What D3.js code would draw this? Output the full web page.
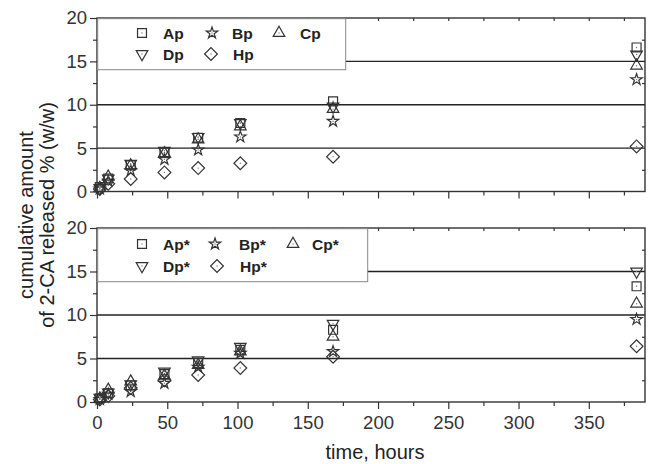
<!DOCTYPE html>
<html>
<head>
<meta charset="utf-8">
<script src="https://cdn.jsdelivr.net/npm/d3@7"></script>
<style>
	body { margin: 0; background: #fff; }
	text { font-family: Arial, "Liberation Sans", sans-serif; }
</style>
</head>
<body>
<script>
// sampling times (hours)
const times = [2, 8, 24, 48, 72, 102, 168, 384];

// upper panel
const apTop = [0.5, 1.5, 3.0, 4.5, 6.2, 7.9, 10.4, 16.6];
const bpTop = [0.3, 1.2, 2.4, 3.7, 4.8, 6.3, 8.1, 12.9];
const cpTop = [0.4, 1.7, 3.0, 4.4, 6.0, 7.5, 9.5, 14.5];
const dpTop = [0.4, 1.5, 3.2, 4.7, 6.3, 7.9, 9.8, 15.8];
const hpTop = [0.3, 0.9, 1.45, 2.2, 2.7, 3.25, 4.0, 5.2];

// lower panel
const apBot = [0.4, 1.0, 1.9, 3.2, 4.5, 6.0, 8.3, 13.3];
const bpBot = [0.3, 0.9, 1.2, 2.15, 4.0, 5.6, 5.8, 9.5];
const cpBot = [0.4, 1.4, 2.35, 3.0, 4.25, 5.8, 7.5, 11.3];
const dpBot = [0.5, 1.1, 2.05, 3.5, 4.8, 6.35, 9.0, 15.0];
const hpBot = [0.3, 0.7, 1.6, 2.5, 3.1, 3.9, 5.2, 6.4];

const xMajor = [0, 50, 100, 150, 200, 250, 300, 350];
const xMinor = [25, 75, 125, 175, 225, 275, 325, 375];
const yMajor = [0, 5, 10, 15, 20];
const yMinor = [2.5, 7.5, 12.5, 17.5];
const gridVals = [5, 10, 15];

const drawViz = () => {
	const width = 652;
	const height = 464;
	const left = 97, right = 645;

	const svg = d3.select('body')
		.append('svg')
		.attr('width', width)
		.attr('height', height);

	const x = d3.scaleLinear()
		.domain([0, 390])
		.range([left, right]);

	const symbols = {
		square:  {type: d3.symbolSquare, size: 80, rot: 0},
		star:    {type: d3.symbolStar, size: 40, rot: 0},
		tri:     {type: d3.symbolTriangle, size: 58, rot: 0},
		triDown: {type: d3.symbolTriangle, size: 58, rot: 180},
		diamond: {type: d3.symbolSquare, size: 82, rot: 45}
	};

	function marker(g, kind, cx, cy) {
		const s = symbols[kind];
		g.append('path')
			.attr('d', d3.symbol().type(s.type).size(s.size)())
			.attr('transform', `translate(${cx},${cy}) rotate(${s.rot})`)
			.attr('fill', 'none')
			.attr('stroke', '#333')
			.attr('stroke-width', 1.2);
		g.append('circle')
			.attr('cx', cx).attr('cy', cy).attr('r', 0.7)
			.attr('fill', '#777');
	}

	function drawPanel(top, bottom, series, legend, showLabels) {
		const y = d3.scaleLinear()
			.domain([0, 20])
			.range([bottom, top]);

		const g = svg.append('g');

		// grid lines
		g.selectAll('.grid')
			.data(gridVals)
			.enter().append('line')
			.attr('x1', left).attr('x2', right)
			.attr('y1', d => y(d)).attr('y2', d => y(d))
			.attr('stroke', '#222')
			.attr('stroke-width', 1.4);

		// axes
		g.append('g').attr('transform', `translate(${left},0)`)
			.call(d3.axisLeft(y).tickValues(yMajor).tickSize(7).tickPadding(3));
		g.append('g').attr('transform', `translate(${left},0)`)
			.call(d3.axisLeft(y).tickValues(yMinor).tickSize(4).tickFormat(''));
		g.append('g').attr('transform', `translate(${right},0)`)
			.call(d3.axisRight(y).tickValues(yMinor).tickSize(-3).tickFormat(''));
		g.append('g').attr('transform', `translate(0,${top})`)
			.call(d3.axisTop(x).tickValues(xMajor.concat(xMinor)).tickSize(-3).tickFormat(''));
		g.append('g').attr('transform', `translate(0,${bottom})`)
			.call(d3.axisBottom(x).tickValues(xMajor).tickSize(7).tickPadding(7)
				.tickFormat(showLabels ? d3.format('d') : ''));
		g.append('g').attr('transform', `translate(0,${bottom})`)
			.call(d3.axisBottom(x).tickValues(xMinor).tickSize(4).tickFormat(''));

		g.selectAll('.domain').remove();
		g.selectAll('.tick line').attr('stroke', '#333').attr('stroke-width', 1.2);
		g.selectAll('.tick text')
			.attr('fill', '#333')
			.style('font-size', '18.5px')
			.style('font-family', 'Arial, "Liberation Sans", sans-serif');

		// frame
		g.append('rect')
			.attr('x', left).attr('y', top)
			.attr('width', right - left).attr('height', bottom - top)
			.attr('fill', 'none')
			.attr('stroke', '#333')
			.attr('stroke-width', 1.4);

		// legend box
		g.append('rect')
			.attr('x', left + 0.7).attr('y', top + 0.7)
			.attr('width', legend.w).attr('height', legend.h)
			.attr('fill', '#fff')
			.attr('stroke', '#888')
			.attr('stroke-width', 1);

		series.forEach((s, i) => {
			const pos = legend.pos[i];
			marker(g, s.sym, pos[0], top + pos[1]);
			g.append('text')
				.attr('x', pos[2])
				.attr('y', top + pos[1] + 6)
				.attr('font-weight', 'bold')
				.attr('font-size', '15.5px')
				.attr('fill', '#222')
				.text(s.name);
		});

		// data points
		series.forEach(s => {
			s.values.forEach((v, j) => marker(g, s.sym, x(times[j]), y(v)));
		});
	}

	const topSeries = [
		{name: 'Ap', sym: 'square', values: apTop},
		{name: 'Bp', sym: 'star', values: bpTop},
		{name: 'Cp', sym: 'tri', values: cpTop},
		{name: 'Dp', sym: 'triDown', values: dpTop},
		{name: 'Hp', sym: 'diamond', values: hpTop}
	];
	const botSeries = [
		{name: 'Ap*', sym: 'square', values: apBot},
		{name: 'Bp*', sym: 'star', values: bpBot},
		{name: 'Cp*', sym: 'tri', values: cpBot},
		{name: 'Dp*', sym: 'triDown', values: dpBot},
		{name: 'Hp*', sym: 'diamond', values: hpBot}
	];

	drawPanel(18, 191.5, topSeries, {
		w: 248, h: 51,
		pos: [[142, 15, 163], [212, 15, 232], [279, 15, 300], [142, 36, 163], [211, 36, 233]]
	}, false);

	drawPanel(228, 402, botSeries, {
		w: 270, h: 53,
		pos: [[142, 16, 163], [215, 16, 239], [293, 16, 312], [142, 38, 163], [217, 38, 240]]
	}, true);

	// axis titles
	svg.append('text')
		.attr('transform', 'translate(33,215) rotate(-90)')
		.attr('text-anchor', 'middle')
		.attr('font-size', '20px')
		.attr('fill', '#222')
		.text('cumulative amount');
	svg.append('text')
		.attr('transform', 'translate(54,215) rotate(-90)')
		.attr('text-anchor', 'middle')
		.attr('font-size', '20px')
		.attr('fill', '#222')
		.text('of 2-CA released % (w/w)');
	svg.append('text')
		.attr('x', 375).attr('y', 459)
		.attr('text-anchor', 'middle')
		.attr('font-size', '20px')
		.attr('fill', '#222')
		.text('time, hours');
}

drawViz();
</script>
</body>
</html>
